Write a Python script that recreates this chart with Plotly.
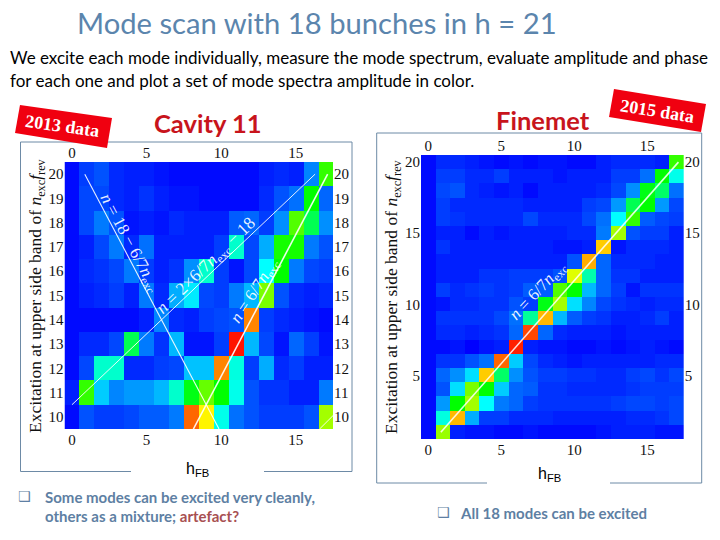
import plotly.graph_objects as go

W, H = 720, 540

# ---------- data ----------
hfb = list(range(18))
left_nexc = list(range(20, 9, -1))
left_amp = [
    [1, 6, 8, 4, 3, 3, 2, 1, 1, 1, 1, 1, 1, 3, 4, 3, 13, 55],
    [1, 7, 7, 4, 3, 5, 3, 2, 2, 1, 1, 1, 1, 4, 8, 11, 50, 10],
    [1, 7, 12, 8, 2, 3, 2, 4, 3, 3, 3, 9, 10, 6, 14, 58, 42, 14],
    [1, 3, 7, 12, 4, 11, 3, 3, 3, 3, 6, 30, 7, 17, 52, 52, 12, 8],
    [1, 4, 5, 7, 12, 6, 3, 5, 14, 30, 6, 2, 7, 25, 50, 12, 7, 6],
    [1, 3, 4, 6, 3, 12, 4, 17, 23, 7, 6, 12, 18, 62, 8, 4, 3, 4],
    [1, 1, 1, 1, 1, 3, 13, 4, 3, 6, 7, 8, 87, 6, 4, 3, 2, 1],
    [1, 4, 4, 7, 42, 12, 5, 18, 2, 2, 6, 98, 18, 7, 2, 10, 6, 2],
    [1, 7, 30, 30, 4, 4, 6, 7, 19, 19, 87, 28, 6, 17, 4, 6, 3, 3],
    [3, 55, 20, 13, 15, 15, 18, 30, 48, 60, 50, 27, 8, 5, 5, 3, 3, 12],
    [1, 8, 6, 6, 7, 9, 9, 12, 90, 76, 27, 11, 8, 6, 6, 6, 8, 66],
]
right_nexc = list(range(20, 0, -1))
right_amp = [
    [1, 4, 4, 3, 2, 1, 2, 1, 2, 2, 1, 1, 3, 4, 4, 4, 3, 55],
    [1, 6, 6, 4, 4, 6, 3, 3, 3, 2, 3, 3, 3, 6, 6, 11, 50, 27],
    [1, 7, 8, 4, 3, 2, 3, 1, 3, 3, 3, 3, 4, 7, 14, 48, 40, 11],
    [1, 6, 4, 4, 4, 4, 4, 3, 3, 3, 3, 6, 7, 15, 42, 50, 15, 7],
    [1, 6, 5, 4, 4, 4, 4, 7, 4, 4, 4, 7, 11, 25, 55, 9, 7, 6],
    [1, 3, 3, 1, 3, 2, 3, 3, 3, 3, 4, 4, 12, 66, 8, 6, 6, 3],
    [1, 5, 3, 3, 3, 3, 3, 3, 3, 2, 2, 3, 80, 2, 4, 4, 4, 3],
    [1, 3, 3, 3, 3, 3, 3, 3, 3, 3, 8, 83, 10, 4, 4, 4, 3, 3],
    [1, 3, 3, 3, 5, 5, 6, 6, 6, 8, 72, 33, 10, 5, 5, 3, 3, 3],
    [1, 6, 4, 5, 6, 5, 6, 9, 9, 58, 50, 18, 10, 6, 2, 5, 5, 5],
    [1, 2, 4, 4, 5, 5, 8, 6, 48, 66, 22, 13, 7, 5, 4, 3, 4, 4],
    [1, 5, 5, 5, 5, 7, 11, 35, 82, 18, 9, 6, 5, 3, 3, 4, 6, 3],
    [1, 4, 4, 3, 4, 5, 10, 93, 10, 4, 3, 3, 3, 2, 3, 3, 3, 3],
    [1, 1, 2, 0, 2, 3, 97, 3, 2, 2, 1, 1, 2, 1, 2, 3, 2, 1],
    [1, 5, 5, 8, 11, 90, 20, 7, 4, 3, 2, 3, 3, 3, 3, 3, 4, 4],
    [1, 10, 14, 22, 80, 40, 14, 8, 6, 6, 5, 5, 4, 4, 6, 7, 5, 7],
    [1, 8, 22, 62, 50, 20, 10, 9, 5, 5, 4, 4, 4, 4, 5, 6, 6, 6],
    [1, 15, 50, 66, 25, 12, 10, 6, 5, 5, 5, 5, 5, 6, 7, 7, 6, 7],
    [1, 28, 82, 17, 6, 6, 4, 4, 4, 3, 3, 3, 3, 3, 4, 4, 5, 7],
    [1, 65, 3, 2, 2, 1, 1, 2, 1, 1, 1, 1, 2, 3, 3, 3, 2, 2],
]

# guide lines
line_a_nexc = [9.5, 20]
line_a_n = [8.14, 17.14]
line_b_nexc = [9.5, 20]
line_b_n = [9.86, 0.86]
line_c_nexc = [10.5, 20]
line_c_n = [0.0, 16.3]
line_d_nexc = [9.5, 10.05]
line_d_n = [16.6, 17.5]
line_e_nexc = [1, 20]
line_e_n = [0.86, 17.14]

x_ticks = [0, 5, 10, 15]
left_y_ticks = list(range(10, 21))
right_y_ticks = [5, 10, 15, 20]

title_text = "Mode scan with 18 bunches in h = 21"
intro_lines = [
    "We excite each mode individually, measure the mode spectrum, evaluate amplitude and phase",
    "for each one and plot a set of mode spectra amplitude in color.",
]

# ---------- style ----------
SCALE = [[0, "#0000ff"], [0.25, "#00ffff"], [0.5, "#00ff00"], [0.75, "#ffff00"], [1, "#ff0000"]]
SERIF = "Liberation Serif"
SANS = "Lato"
STEEL = "#5e7fa3"
FRAME = "#6d8aa6"
RED = "#c8141c"
BADGE = "#f00010"


def px(x):
    return x / W


def py(y):
    return 1 - y / H


fig = go.Figure()
fig.add_trace(go.Heatmap(x=hfb, y=left_nexc, z=left_amp, zmin=0, zmax=100, colorscale=SCALE,
                         showscale=False, xaxis="x", yaxis="y"))
fig.add_trace(go.Heatmap(x=hfb, y=right_nexc, z=right_amp, zmin=0, zmax=100, colorscale=SCALE,
                         showscale=False, xaxis="x2", yaxis="y2"))

for xs, ys, w in [(line_a_n, line_a_nexc, 1.6), (line_b_n, line_b_nexc, 1.1),
                  (line_c_n, line_c_nexc, 1.0), (line_d_n, line_d_nexc, 1.0)]:
    fig.add_trace(go.Scatter(x=xs, y=ys, mode="lines", line=dict(color="rgba(255,255,255,0.9)", width=w),
                             xaxis="x3", yaxis="y3", showlegend=False, hoverinfo="skip"))
fig.add_trace(go.Scatter(x=line_e_n, y=line_e_nexc, mode="lines",
                         line=dict(color="rgba(255,255,255,0.85)", width=1.6),
                         xaxis="x4", yaxis="y4", showlegend=False, hoverinfo="skip"))


def axis(rng, ticks, domain, size, **kw):
    return dict(range=rng, domain=domain, tickvals=ticks, ticktext=[str(t) for t in ticks],
                ticks="", ticklen=0, showgrid=False, zeroline=False, showline=False,
                tickfont=dict(family=SERIF, size=size, color="#111111"), **kw)


LX = [64.5 / W, 333 / W]
LY = [py(429), py(162)]
RX = [421 / W, 683.7 / W]
RY = [py(439.3), py(155)]
xr, ly, ry = [-0.5, 17.5], [9.5, 20.5], [0.5, 20.5]

fig.update_layout(
    width=W, height=H, autosize=False, margin=dict(l=0, r=0, t=0, b=0),
    paper_bgcolor="white", plot_bgcolor="rgba(0,0,0,0)", showlegend=False,
    xaxis=axis(xr, x_ticks, LX, 15, anchor="y", side="bottom"),
    yaxis=axis(ly, left_y_ticks, LY, 15, anchor="x", side="left"),
    xaxis2=axis(xr, x_ticks, RX, 15, anchor="y2", side="bottom"),
    yaxis2=axis(ry, right_y_ticks, RY, 15, anchor="x2", side="left"),
    xaxis3=axis(xr, x_ticks, LX, 15, anchor="y3", side="top", overlaying="x"),
    yaxis3=axis(ly, left_y_ticks, LY, 15, anchor="x3", side="right", overlaying="y"),
    xaxis4=axis(xr, x_ticks, RX, 15, anchor="y4", side="top", overlaying="x2"),
    yaxis4=axis(ry, right_y_ticks, RY, 15, anchor="x4", side="right", overlaying="y2"),
)

# frames with a gap for the axis name
for l, t, r, b, g0, g1 in [(20.5, 142, 352, 471.5, 131, 264), (376.7, 133, 701.7, 483, 487, 610)]:
    path = f"M {px(g0)} {py(b)} L {px(l)} {py(b)} L {px(l)} {py(t)} L {px(r)} {py(t)} L {px(r)} {py(b)} L {px(g1)} {py(b)}"
    fig.add_shape(type="path", xref="paper", yref="paper", path=path,
                  line=dict(color=FRAME, width=1), layer="below")

# red badges
for corners in [[(20, 105), (112, 118), (107, 148), (15, 133)], [(614, 89), (706, 104), (701, 132), (609, 117)]]:
    d = "M " + " L ".join(f"{px(a)} {py(b)}" for a, b in corners) + " Z"
    fig.add_shape(type="path", xref="paper", yref="paper", path=d, fillcolor=BADGE, line=dict(width=0))


def note(x, y, text, size, color="#000000", family=SANS, anchor="left", angle=0):
    fig.add_annotation(x=px(x), y=py(y), xref="paper", yref="paper", text=text, showarrow=False,
                       xanchor=anchor, yanchor="middle", textangle=angle,
                       font=dict(family=family, size=size, color=color))


note(75, 22, title_text, 29.2, "#5b85ad")
note(8, 58, intro_lines[0], 17)
note(8, 80, intro_lines[1], 17)
note(208, 123, "<b>Cavity 11</b>", 25.5, RED, anchor="center")
note(543, 120, "<b>Finemet</b>", 25.5, RED, anchor="center")
note(63, 126, "<b>2013 data</b>", 18, "white", SERIF, "center", 8)
note(657, 111, "<b>2015 data</b>", 18, "white", SERIF, "center", 9)

YT = "Excitation at upper side band of <i>n</i><sub>exc</sub><i>f</i><sub>rev</sub>"
note(36, 296, YT, 17.5, "#111111", SERIF, "center", -90)
note(392, 296, YT, 17.5, "#111111", SERIF, "center", -90)

note(197, 469, "h<sub>FB</sub>", 16, "#000000", "Liberation Sans", "center")
note(549, 474, "h<sub>FB</sub>", 16, "#000000", "Liberation Sans", "center")

note(16, 496, "❑", 14, STEEL, "DejaVu Sans")
note(42.5, 497, "<b>Some modes can be excited very cleanly,</b>", 15, STEEL)
note(42.5, 516, "<b>others as a mixture; <span style='color:#a85052'>artefact?</span></b>", 15, STEEL)
note(435, 512, "❑", 14, STEEL, "DejaVu Sans")
note(458, 513, "<b>All 18 modes can be excited</b>", 15, STEEL)

MATH = "rgba(255,255,255,0.92)"
note(129, 243, "<i>n</i> = 18 − 6/7<i>n</i><sub>exc</sub>", 17, MATH, SERIF, "center", 62)
note(206, 266, "<i>n</i> = 2×6/7<i>n</i><sub>exc</sub> − 18", 17.5, MATH, SERIF, "center", -44)
note(255, 292, "<i>n</i> = 6/7<i>n</i><sub>exc</sub>", 17, MATH, SERIF, "center", -57)
note(538, 292, "<i>n</i> = 6/7<i>n</i><sub>exc</sub>", 17, MATH, SERIF, "center", -47)

fig.write_html("out.html", config=dict(displayModeBar=False),
               post_script="document.body.style.margin='0';document.body.style.overflow='hidden';")
